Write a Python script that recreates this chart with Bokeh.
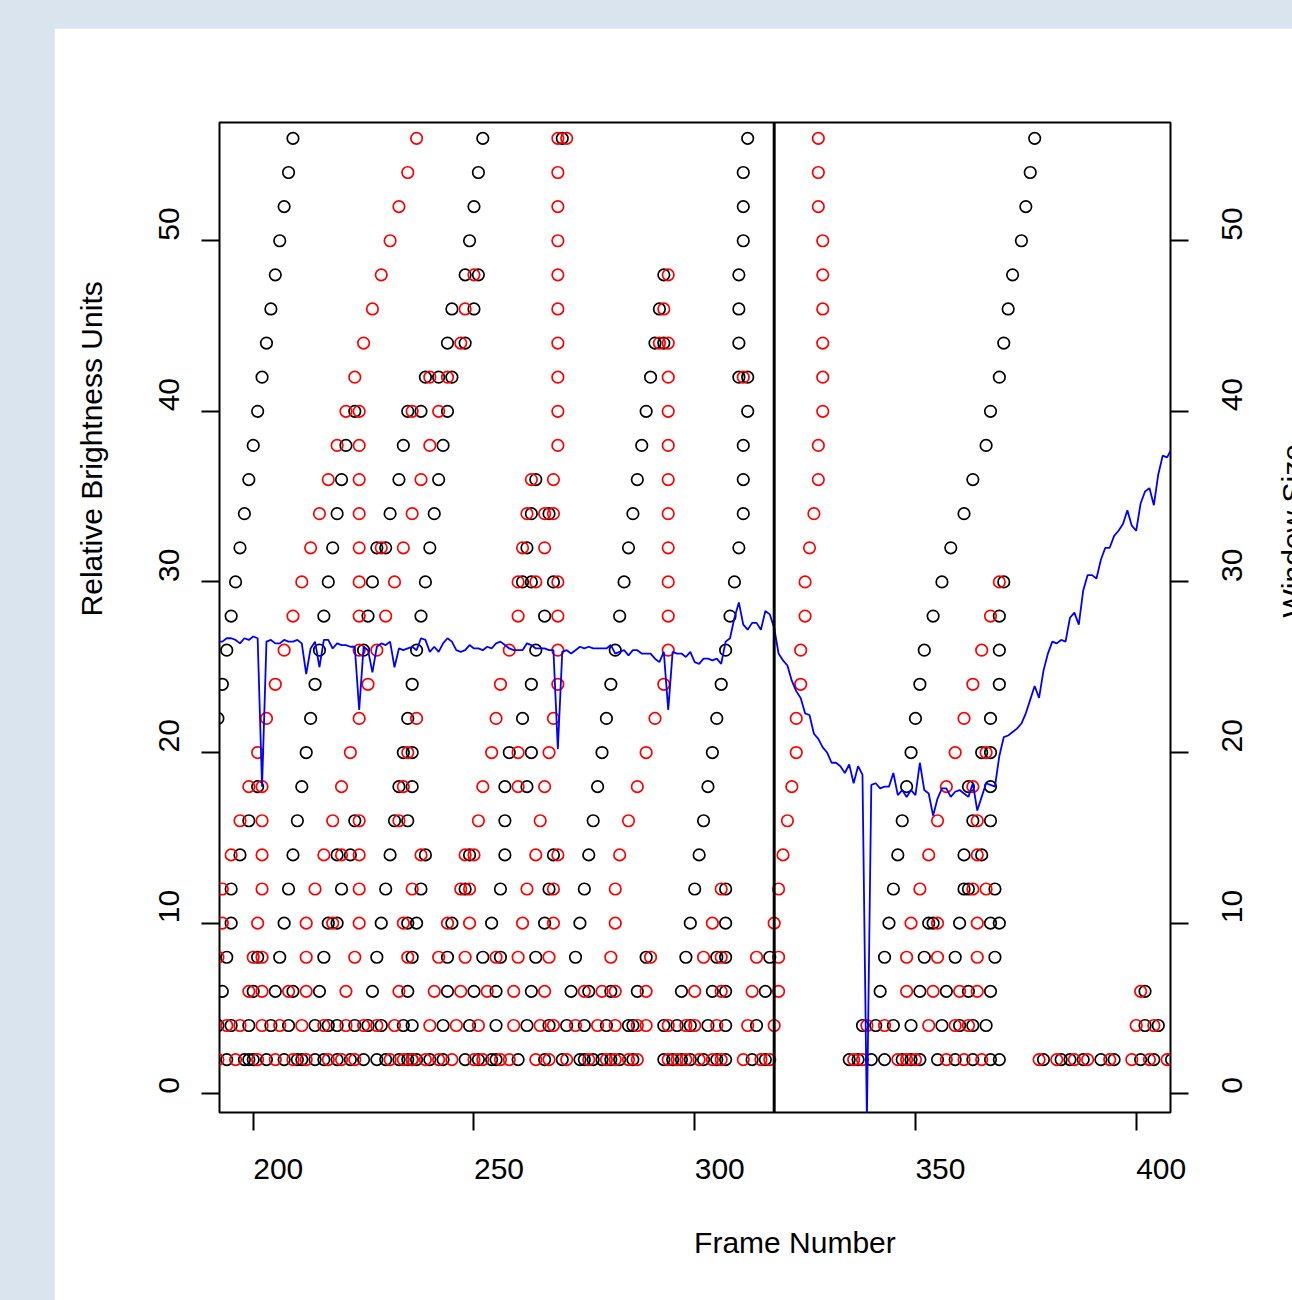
import math
from bokeh.plotting import figure
from bokeh.models import Range1d, FixedTicker, LinearAxis, Span
from bokeh.embed import file_html
from bokeh.resources import INLINE

# ---------------- data ----------------
levels = [56, 54, 52, 50, 48, 46, 44, 42, 40, 38, 36, 34, 32, 30,
          28, 26, 24, 22, 20, 18, 16, 14, 12, 10, 8, 6, 4, 2]

black_frames = [
    [209, 252, 270, 312, 377],
    [208, 251, 311, 376],
    [207, 250, 311, 375],
    [206, 249, 311, 374],
    [205, 248, 251, 293, 310, 372],
    [204, 245, 250, 292, 310, 371],
    [203, 244, 248, 291, 293, 310, 370],
    [202, 239, 242, 245, 290, 310, 312, 369],
    [201, 223, 235, 238, 244, 289, 312, 367],
    [200, 221, 234, 243, 288, 311, 366],
    [199, 220, 233, 242, 264, 287, 311, 363],
    [198, 219, 231, 241, 263, 267, 286, 311, 361],
    [197, 218, 228, 230, 240, 262, 285, 310, 358],
    [196, 217, 227, 239, 261, 263, 268, 284, 309, 356, 370],
    [195, 216, 226, 238, 266, 283, 308, 354, 369],
    [194, 215, 225, 237, 264, 282, 307, 352, 369],
    [193, 214, 236, 263, 281, 306, 351, 369],
    [192, 213, 235, 261, 280, 305, 350, 367],
    [212, 234, 236, 258, 263, 279, 304, 349, 365, 367],
    [201, 211, 233, 236, 257, 262, 278, 303, 348, 362, 367],
    [199, 210, 223, 232, 235, 257, 277, 302, 347, 363, 367],
    [197, 209, 219, 222, 231, 239, 249, 257, 268, 276, 301, 346, 361, 365],
    [195, 208, 220, 230, 238, 248, 256, 267, 275, 300, 307, 345, 361, 362, 368],
    [195, 207, 217, 219, 229, 235, 237, 245, 254, 266, 274, 299, 307, 344, 353,
     354, 360, 367, 369],
    [194, 201, 206, 216, 228, 236, 244, 252, 256, 264, 273, 289, 298, 305, 307,
     317, 343, 352, 359, 368],
    [193, 200, 205, 209, 215, 227, 235, 244, 250, 255, 263, 272, 276, 281, 287,
     297, 304, 307, 316, 342, 351, 357, 362, 367, 402],
    [192, 195, 199, 204, 208, 214, 217, 219, 223, 226, 229, 234, 236, 243, 249,
     255, 262, 267, 271, 275, 280, 285, 286, 293, 296, 299, 303, 307, 314, 338,
     341, 345, 349, 356, 360, 363, 366, 402, 405],
    [194, 198, 199, 200, 203, 207, 210, 211, 214, 216, 219, 222, 225, 228, 230,
     233, 235, 236, 237, 240, 243, 248, 251, 254, 255, 260, 266, 270, 274, 275,
     277, 279, 281, 283, 286, 293, 295, 297, 299, 302, 305, 307, 313, 316, 335,
     337, 340, 343, 347, 349, 351, 355, 359, 363, 367, 369, 379, 383, 385, 388,
     392, 395, 401, 404, 408],
]

red_frames = [
    [237, 269, 271, 328],
    [235, 269, 328],
    [233, 269, 328],
    [231, 269, 329],
    [229, 250, 269, 294, 329],
    [227, 248, 269, 293, 329],
    [225, 247, 269, 292, 294, 329],
    [223, 240, 244, 269, 294, 311, 329],
    [221, 224, 236, 242, 269, 294, 329],
    [219, 224, 240, 269, 294, 328],
    [217, 224, 238, 263, 268, 294, 328],
    [215, 224, 236, 262, 266, 268, 294, 327],
    [213, 224, 229, 234, 261, 266, 294, 326],
    [211, 224, 232, 260, 264, 269, 294, 325, 369],
    [209, 224, 230, 260, 269, 294, 325, 367],
    [207, 224, 228, 258, 269, 294, 324, 365],
    [205, 226, 256, 269, 293, 324, 363],
    [203, 224, 237, 255, 268, 291, 323, 361],
    [201, 222, 235, 254, 260, 267, 289, 323, 359, 366],
    [199, 202, 220, 234, 252, 260, 266, 287, 322, 357, 363],
    [197, 202, 218, 224, 233, 251, 265, 285, 321, 355, 364],
    [195, 202, 216, 220, 224, 238, 248, 250, 264, 269, 283, 320, 353, 364],
    [193, 202, 214, 224, 236, 247, 249, 262, 268, 282, 306, 319, 351, 363, 366],
    [193, 201, 212, 218, 224, 234, 244, 249, 261, 268, 282, 304, 318, 349, 355,
     364],
    [192, 200, 202, 212, 223, 235, 242, 248, 255, 260, 267, 281, 290, 302, 306,
     314, 319, 348, 355, 364],
    [199, 202, 208, 212, 221, 233, 241, 247, 253, 259, 266, 275, 279, 282, 289,
     300, 306, 313, 319, 348, 354, 360, 364, 401],
    [194, 197, 202, 206, 211, 216, 221, 225, 228, 232, 240, 246, 251, 259, 265,
     268, 273, 278, 282, 287, 289, 294, 298, 300, 305, 312, 318, 339, 343, 353,
     359, 362, 400, 404],
    [192, 196, 201, 205, 209, 212, 217, 220, 223, 231, 234, 236, 239, 242, 245,
     250, 252, 256, 258, 264, 267, 271, 276, 280, 282, 285, 287, 294, 296, 298,
     301, 304, 306, 311, 315, 317, 336, 338, 346, 348, 350, 357, 361, 365, 378,
     382, 386, 389, 394, 399, 403, 407],
]

# blue line: one value per frame, frames 192 .. 408
blue_frame = list(range(192, 409))
blue_value = [
    26.5, 26.5, 26.7, 26.7, 26.6, 26.4, 26.7, 26.6,                    # 192-199
    26.8, 26.7, 18.0, 26.5, 26.6, 26.4, 26.4, 26.6, 26.5, 26.5,        # 200
    26.6, 26.4, 24.6, 26.1, 26.5, 25.0, 26.6, 26.6, 26.1, 26.4,        # 210
    26.3, 26.3, 26.2, 26.2, 22.5, 26.2, 26.0, 24.7, 26.2, 26.4,        # 220
    26.3, 26.5, 25.0, 26.1, 26.0, 26.1, 26.2, 26.0, 26.7, 26.6,        # 230
    25.9, 26.2, 25.9, 26.4, 26.7, 26.5, 26.0, 25.9, 26.0, 26.3,        # 240
    26.1, 26.1, 26.0, 26.2, 26.1, 26.4, 26.5, 26.3, 26.1, 26.0,        # 250
    26.0, 26.0, 26.4, 26.3, 26.1, 26.1, 26.1, 26.0, 26.0, 20.2,        # 260
    25.9, 26.0, 25.8, 26.0, 26.2, 26.1, 26.2, 26.1, 26.1, 26.1,        # 270
    26.1, 26.3, 25.8, 25.9, 26.0, 25.7, 26.0, 26.0, 25.8, 25.8,        # 280
    25.8, 25.5, 25.3, 25.9, 22.5, 25.9, 25.8, 25.8, 25.6, 25.9,        # 290
    25.3, 25.2, 25.5, 25.5, 25.4, 25.5, 25.2, 26.5, 26.7, 27.9,        # 300
    28.8, 27.5, 27.2, 27.6, 27.6, 27.2, 28.3, 28.1, 27.3, 25.8,        # 310
    25.4, 25.1, 24.2, 23.6, 23.2, 22.3, 22.2, 21.1, 20.8, 20.3,        # 320
    20.0, 19.4, 19.4, 19.2, 18.8, 19.3, 18.2, 19.2, 18.7, -1.5,        # 330
    18.1, 18.2, 17.9, 18.0, 18.0, 18.8, 17.5, 17.8, 17.4, 17.8,        # 340
    17.5, 19.4, 17.8, 17.6, 16.3, 17.3, 17.9, 17.9, 17.4, 17.7,        # 350
    17.8, 17.6, 17.4, 18.2, 16.6, 17.4, 18.2, 18.1, 18.0, 19.8,        # 360
    20.9, 21.0, 21.2, 21.4, 21.7, 22.3, 23.1, 23.9, 23.2, 24.8,        # 370
    25.8, 26.5, 26.4, 26.6, 26.5, 27.9, 28.2, 27.5, 29.5, 30.4,        # 380
    30.4, 30.2, 31.3, 32.0, 32.0, 32.7, 33.0, 33.4, 34.2, 33.3,        # 390
    33.0, 34.6, 35.3, 35.5, 34.5, 36.3, 37.4, 37.3, 37.8,              # 400-408
]

split_frame = 318
x_ticks = [200, 250, 300, 350, 400]
y_ticks = [0, 10, 20, 30, 40, 50]
x_title = "Frame Number"
y_title = "Relative Brightness Units"
y2_title = "Window Size"

# ---------------- build ----------------
bx = [f for lv, fr in zip(levels, black_frames) for f in fr]
by = [lv for lv, fr in zip(levels, black_frames) for f in fr]
rx = [f for lv, fr in zip(levels, red_frames) for f in fr]
ry = [lv for lv, fr in zip(levels, red_frames) for f in fr]

FONT = "Liberation Sans"
FSIZE = 30
FS = "%dpx" % FSIZE

X0, X1 = 192.36, 407.77
Y0, Y1 = -1.1, 56.93
FRAME_W, FRAME_H = 951, 990
XPX = FRAME_W / (X1 - X0)        # px per frame
YPX = FRAME_H / (Y1 - Y0)        # px per unit
Y_MID = (Y0 + Y1) / 2
BORDER_L, BORDER_R, BORDER_T, BORDER_B = 165, 185, 94, 188

p = figure(width=BORDER_L + FRAME_W + BORDER_R,
           height=BORDER_T + FRAME_H + BORDER_B,
           x_range=Range1d(X0, X1), y_range=Range1d(Y0, Y1),
           output_backend="svg", toolbar_location=None,
           min_border_left=BORDER_L, min_border_right=BORDER_R,
           min_border_top=BORDER_T, min_border_bottom=BORDER_B,
           background_fill_color="white", border_fill_color="white",
           outline_line_color="black", outline_line_width=2)
p.margin = (28, 0, 0, 54)
p.grid.visible = False


def tick_axis(ax, ticks):
    ax.ticker = FixedTicker(ticks=ticks)
    ax.major_label_overrides = {t: "" for t in ticks}
    ax.axis_line_color = None
    ax.major_tick_out = 18
    ax.major_tick_in = 0
    ax.major_tick_line_width = 2
    ax.major_tick_line_color = "black"
    ax.minor_tick_out = 0
    ax.minor_tick_in = 0
    ax.major_label_text_font_size = "1px"
    ax.major_label_standoff = 0


def text_axis(positions, texts, standoff, angle):
    ax = LinearAxis(ticker=FixedTicker(ticks=positions),
                    major_label_overrides=dict(zip(positions, texts)))
    ax.axis_line_color = None
    ax.major_tick_line_color = None
    ax.major_tick_out = 0
    ax.major_tick_in = 0
    ax.minor_tick_out = 0
    ax.minor_tick_in = 0
    ax.major_label_standoff = standoff
    ax.major_label_text_font = FONT
    ax.major_label_text_font_size = FS
    ax.major_label_text_color = "black"
    if angle is not None:
        ax.major_label_orientation = angle
    return ax


def text_width(s):
    # digits in Liberation Sans are 0.556 em wide
    return len(s) * 0.556 * FSIZE


tick_axis(p.xaxis[0], x_ticks)
tick_axis(p.yaxis[0], y_ticks)
right_ticks = LinearAxis()
tick_axis(right_ticks, y_ticks)
p.add_layout(right_ticks, "right")

# tick labels start at their tick (as in the reference): shift centres by half width
xl_pos = [t + text_width(str(t)) / 2 / XPX for t in x_ticks]
yl_pos = [t + text_width(str(t)) / 2 / YPX for t in y_ticks]
up = math.pi / 2
p.add_layout(text_axis(xl_pos, [str(t) for t in x_ticks], 28, None), "below")
p.add_layout(text_axis([322.7], [x_title], 44, None), "below")
p.add_layout(text_axis(yl_pos, [str(t) for t in y_ticks], 22, "vertical"), "left")
p.add_layout(text_axis([37.8], [y_title], 48, "vertical"), "left")
# right side: a numeric angle makes each text start at its position
p.add_layout(text_axis(list(y_ticks), [str(t) for t in y_ticks], 44, up), "right")
p.add_layout(text_axis([Y_MID], [y2_title], 37, up), "right")

p.scatter(bx, by, marker="circle", size=11.5, fill_color=None,
          line_color="black", line_width=1.7)
p.scatter(rx, ry, marker="circle", size=11.5, fill_color=None,
          line_color="red", line_width=1.7)
p.line(blue_frame, blue_value, line_color="blue", line_width=1.8)
p.add_layout(Span(location=split_frame, dimension="height",
                  line_color="black", line_width=3))

html = file_html(p, INLINE, title="Relative Brightness")
html = html.replace(
    "</head>",
    "<style>html,body{margin:0;padding:0;background:#dae4ee;overflow:hidden;}</style></head>", 1)
open("out.html", "w").write(html)
